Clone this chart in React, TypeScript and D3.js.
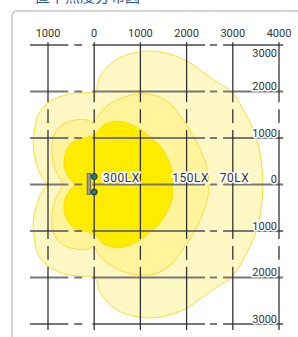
import React from "react";
import * as d3 from "d3";

const W = 298;
const H = 337;

// axis ticks (mm)
const xTicks = [-1000, 0, 1000, 2000, 3000, 4000];
const xTickLabels = ["1000", "0", "1000", "2000", "3000", "4000"];
const yTicks = [3000, 2000, 1000, 0, -1000, -2000, -3000];
const yTickLabels = ["3000", "2000", "1000", "0", "1000", "2000", "3000"];

// isolux contours, upper half in mm (right axis -> left cusp), lower half is the mirror
const lux70: [number, number][] = [
  [3650, 0], [3630, 390], [3520, 970], [3300, 1470], [2980, 1990], [2660, 2200],
  [2350, 2420], [1920, 2700], [1210, 2870], [500, 2700], [130, 2330], [20, 2010],
  [-300, 1970], [-580, 1940], [-950, 1790], [-1210, 1510], [-1300, 1120],
  [-1320, 820], [-1230, 390], [-1100, 110], [-990, 0],
];
const lux150: [number, number][] = [
  [2480, 0], [2460, 280], [2400, 500], [2220, 910], [1920, 1400], [1580, 1790],
  [1210, 1940], [710, 1900], [280, 1690], [65, 1450], [0, 1340], [-130, 1380],
  [-300, 1400], [-580, 1340], [-800, 1190], [-910, 910], [-910, 600],
  [-840, 320], [-730, 110], [-670, 0],
];
const lux300: [number, number][] = [
  [1690, 0], [1690, 280], [1580, 580], [1430, 820], [1210, 1020], [890, 1250],
  [500, 1360], [190, 1270], [40, 1100], [-130, 1020], [-350, 970], [-520, 860],
  [-630, 650], [-650, 390], [-560, 170], [-410, 0],
];

const levelNames = ["70LX", "150LX", "300LX"];
const levelLabelX = [2720, 1690, 190];
const levelFill = ["#fff8c4", "#fff49c", "#ffec00"];
const levelStroke = ["#ffdc2e", "#ffd93a", "#ffdc00"];

// breaks in the grid lines (mm)
const hGaps = [[-560, -430], [-260, -40], [2400, 2505], [2660, 2790]];
const vGaps = [[1620, 1770], [1170, 1320], [-1320, -1170], [-1770, -1620]];

const x = d3.scaleLinear().domain([-1000, 4000]).range([48, 279]);
const y = d3.scaleLinear().domain([-3000, 3000]).range([324, 45]);

function contourPath(pts: [number, number][]) {
  const line = d3
    .line<[number, number]>()
    .x((d) => x(d[0]))
    .y((d) => y(d[1]))
    .curve(d3.curveCatmullRom.alpha(0.5));
  const upper = line(pts) as string;
  const lower = line(pts.map(([a, b]) => [a, -b] as [number, number]).reverse()) as string;
  return upper + lower.replace(/^M/, "L") + "Z";
}

function segments(from: number, to: number, gaps: number[][]) {
  const out: [number, number][] = [];
  let cur = from;
  gaps.slice().sort((a, b) => a[0] - b[0]).forEach(([g0, g1]) => {
    out.push([cur, g0]);
    cur = g1;
  });
  out.push([cur, to]);
  return out;
}

const App = () => {
  const contours = [lux70, lux150, lux300];
  const hSegs = segments(-1390, 4090, hGaps);
  const vSegs = segments(-3130, 3060, vGaps.map((g) => [Math.min(...g), Math.max(...g)]));
  const font = "Roboto, 'Noto Sans', sans-serif";

  return (
    <svg
      width={W}
      height={H}
      style={{ position: "absolute", left: 0, top: 0, background: "#fff" }}
    >
      <text x={35} y={2} fontSize={15} fill="#2a5a9e" fontFamily="'Noto Sans CJK JP', sans-serif">
        直下照度分布図
      </text>
      <rect x={12} y={11} width={300} height={340} rx={5} fill="#fff" stroke="#c8c8c8" strokeWidth={1.5} />

      {contours.map((c, i) => (
        <path key={i} d={contourPath(c)} fill={levelFill[i]} stroke={levelStroke[i]} strokeWidth={1} />
      ))}

      {/* horizontal grid */}
      {yTicks.map((t) =>
        hSegs.map(([a, b], j) => (
          <line key={`h${t}-${j}`} x1={x(a)} x2={x(b)} y1={y(t)} y2={y(t)} stroke="#777" strokeWidth={2} />
        ))
      )}
      {/* vertical grid */}
      {xTicks.map((t) =>
        vSegs.map(([a, b], j) => (
          <line key={`v${t}-${j}`} x1={x(t)} x2={x(t)} y1={y(a)} y2={y(b)} stroke="#333" strokeWidth={1.3} />
        ))
      )}

      {/* top axis labels */}
      {xTicks.map((t, i) => (
        <text key={`xt${i}`} x={x(t)} y={37} textAnchor="middle" fontSize={11} fill="#333" fontFamily={font}>
          {xTickLabels[i]}
        </text>
      ))}
      {/* right axis labels */}
      {yTicks.map((t, i) => (
        <text
          key={`yt${i}`}
          x={277}
          y={i === 0 ? y(t) + 12 : y(t) - 1.5}
          textAnchor="end"
          fontSize={11}
          fill="#333"
          fontFamily={font}
          stroke="#fff"
          strokeWidth={3}
          paintOrder="stroke"
        >
          {yTickLabels[i]}
        </text>
      ))}

      {/* luminaire */}
      <rect x={x(0) - 7} y={y(0) - 11} width={3.5} height={21} fill="#9a9a9a" stroke="#555" strokeWidth={0.8} />
      <circle cx={x(0)} cy={y(0) - 8} r={3} fill="#2e7a6c" stroke="#1d3533" strokeWidth={1} />
      <circle cx={x(0)} cy={y(0) + 7.5} r={3} fill="#2e7a6c" stroke="#1d3533" strokeWidth={1} />

      {/* level labels */}
      {levelNames.map((n, i) => (
        <text
          key={n}
          x={x(levelLabelX[i])}
          y={y(0) - 3}
          fontSize={12}
          fill="#333"
          fontFamily={font}
          stroke="#fff"
          strokeWidth={3}
          paintOrder="stroke"
          letterSpacing={0.5}
        >
          {n}
        </text>
      ))}
    </svg>
  );
};

export default App;
